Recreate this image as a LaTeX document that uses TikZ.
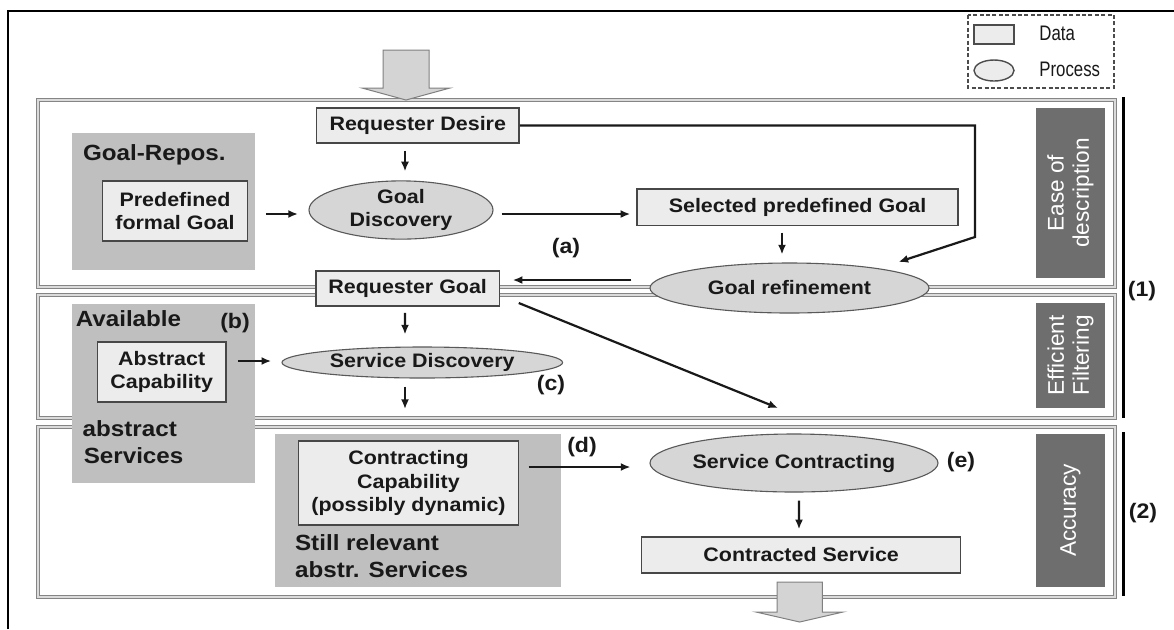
\documentclass[tikz,border=0pt]{standalone}
\usepackage{fontspec}
\setmainfont{Liberation Sans}[FakeStretch=1.1]
\newfontfamily\sidefont{Liberation Sans}
\newfontfamily\narrowfont{Liberation Sans}[FakeStretch=0.8]
\usetikzlibrary{arrows.meta,shapes.geometric}
\definecolor{panelout}{gray}{0.52}
\definecolor{panelin}{gray}{0.86}
\definecolor{grpfill}{gray}{0.75}
\definecolor{datafill}{gray}{0.925}
\definecolor{procfill}{gray}{0.84}
\definecolor{sidefill}{gray}{0.43}
\definecolor{bigfill}{gray}{0.83}
\definecolor{ink}{gray}{0.1}
\begin{document}
\begin{tikzpicture}[x=0.5pt,y=-0.5pt,
  panel/.style={draw=panelout,double=panelin,double distance=0.8pt,line width=0.6pt},
  grpbox/.style={fill=grpfill},
  databox/.style={draw=black!72,fill=datafill,line width=0.75pt,text=ink,
    font=\fontsize{9.75}{11.8}\selectfont\bfseries,align=center,inner sep=0pt},
  proc/.style={ellipse,draw=black!65,fill=procfill,line width=0.55pt,text=ink,
    font=\fontsize{9.75}{11.5}\selectfont\bfseries,align=center,inner sep=0pt},
  sidetext/.style={text=white,font=\sidefont\fontsize{11.3}{12.6}\selectfont,align=center,inner sep=0pt,rotate=90},
  arr/.style={-{Latex[length=4.8pt,width=4pt]},line width=1.1pt,draw=ink},
  tag/.style={font=\fontsize{10.5}{12}\selectfont\bfseries,inner sep=0pt,text=ink},
  grplabel/.style={font=\fontsize{11}{13.5}\selectfont\bfseries,inner sep=0pt,anchor=base west,text=ink},
  bigarr/.style={fill=bigfill,draw=black!50,line width=0.5pt},
  legtext/.style={font=\narrowfont\fontsize{10.5}{12}\selectfont,inner sep=0pt,anchor=west,text=ink}
]
\useasboundingbox (0,0) rectangle (1174,629);
\fill[white] (0,0) rectangle (1174,629);
% outer frame (only top and left visible)
\draw[line width=1.1pt] (7.7,629) -- (7.7,11) -- (1174,11);

% legend
\draw[draw=black!70,line width=0.55pt,dash pattern=on 2pt off 1.2pt] (968,15) rectangle (1114,88);
\node[draw=black!70,fill=datafill,line width=0.7pt,minimum width=20pt,minimum height=9.5pt,inner sep=0pt] (ldata) at (994,34.5) {};
\node[ellipse,draw=black!70,fill=datafill,line width=0.7pt,minimum width=20pt,minimum height=10.5pt,inner sep=0pt] (lproc) at (994,70.5) {};
\node[legtext] (ldatat) at (1039,33) {Data};
\node[legtext] (lproct) at (1039,69) {Process};

% panels
\draw[panel] (38,100) rectangle (1115,287);
\draw[panel] (38,295) rectangle (1115,418);
\draw[panel] (38,427) rectangle (1115,597);

% side labels
\fill[sidefill] (1036,108) rectangle (1105,278);
\fill[sidefill] (1036,303) rectangle (1105,408);
\fill[sidefill] (1036,434) rectangle (1105,587);
\node[sidetext] (s1) at (1070.5,193) {Ease of\\description};
\node[sidetext] (s2) at (1070.5,355.5) {Efficient\\Filtering};
\node[sidetext] (s3) at (1070.5,510.5) {Accuracy};

% brackets (1), (2)
\draw[line width=1.5pt] (1123,97) -- (1123,418);
\draw[line width=1.5pt] (1123,432) -- (1123,596);
\node[tag] (t1) at (1142,291) {(1)};
\node[tag] (t2) at (1143,513) {(2)};

% big arrows
\draw[bigarr] (383,50) -- (429,50) -- (429,88) -- (450,88) -- (406,100) -- (362,88) -- (383,88) -- cycle;
\draw[bigarr] (777,582) -- (822.4,582) -- (822.4,612) -- (843,612) -- (799.7,622) -- (756,612) -- (777,612) -- cycle;

% group boxes
\fill[grpbox] (71.7,133) rectangle (255,270);
\fill[grpbox] (71.6,304) rectangle (254.5,483);
\fill[grpbox] (274.8,434) rectangle (561.4,587);
\node[grplabel] (g1) at (82.7,160.5) {Goal-Repos.};
\node[grplabel] (g2) at (75.4,326) {Available};
\node[grplabel] (g3) at (82.3,436) {abstract};
\node[grplabel] (g4) at (83.4,463) {Services};
\node[grplabel] (g5) at (294.7,550.7) {Still relevant};
\node[grplabel] (g6) at (294.7,577) {abstr. Services};

% data and process nodes
\node[databox,minimum width=101.2pt,minimum height=17.5pt] (rd) at (417.8,125.5) {Requester Desire};
\node[databox,minimum width=72.3pt,minimum height=30pt] (pf) at (175,211) {Predefined\\formal Goal};
\node[proc,minimum width=92pt,minimum height=28pt] (gd) at (401,210) {Goal\\Discovery};
\node[databox,minimum width=160.5pt,minimum height=18.3pt] (sp) at (797.5,207.3) {Selected predefined Goal};
\node[proc,minimum width=139.5pt,minimum height=25pt] (gr) at (789.5,288) {Goal refinement};
\node[databox,minimum width=91.7pt,minimum height=17.5pt] (rg) at (407.7,288.5) {Requester Goal};
\node[databox,minimum width=64.1pt,minimum height=30pt] (ac) at (161.7,372) {Abstract\\Capability};
\node[proc,minimum width=140.3pt,minimum height=15.5pt] (sd) at (422.3,362.5) {Service Discovery};
\node[databox,minimum width=110pt,minimum height=42pt] (cc) at (408.5,483) {Contracting\\Capability\\(possibly dynamic)};
\node[proc,minimum width=144pt,minimum height=29pt] (sc) at (794,463) {Service Contracting};
\node[databox,minimum width=159.5pt,minimum height=18pt] (cs) at (801.2,555) {Contracted Service};

% tags
\node[tag] (ta) at (566,248) {(a)};
\node[tag] (tb) at (235,323) {(b)};
\node[tag] (tc) at (551,385) {(c)};
\node[tag] (td) at (582,447) {(d)};
\node[tag] (te) at (961,462) {(e)};

% free ends
\coordinate (k1) at (975,237);
\coordinate (e1) at (405,409);
\coordinate (e2) at (778,408);

% connectors
\draw[arr] ([xshift=-6.4pt,yshift=-3.5pt]rd.south) -- ([xshift=2pt,yshift=4.5pt]gd.north);
\draw[arr] ([xshift=8.85pt,yshift=-1.5pt]pf.east) -- ([xshift=-5.25pt,yshift=-2pt]gd.west);
\draw[arr] ([xshift=4pt,yshift=-2pt]gd.east) -- ([xshift=-3pt,yshift=-3.35pt]sp.west);
\draw[arr] ([xshift=-7.75pt,yshift=-3.15pt]sp.south) -- ([xshift=-3.75pt,yshift=4pt]gr.north);
\draw[arr,line join=miter] (rd.east) -| (k1) -- ([xshift=5pt,yshift=4pt]gr.north east);
\draw[arr] ([xshift=-9pt,yshift=4pt]gr.west) -- ([xshift=6.3pt,yshift=4.25pt]rg.east);
\draw[arr] ([xshift=-1.35pt,yshift=-3pt]rg.south) -- ([xshift=-8.65pt,yshift=6pt]sd.north);
\draw[arr] ([xshift=5.6pt,yshift=5.5pt]ac.east) -- ([xshift=-5.15pt,yshift=0.75pt]sd.west);
\draw[arr] ([xshift=-8.65pt,yshift=-4pt]sd.south) -- (e1);
\draw[arr] ([xshift=9.3pt,yshift=-7.25pt]rg.east) -- (e2);
\draw[arr] ([xshift=4.7pt,yshift=8pt]cc.east) -- ([xshift=-9.5pt,yshift=-2pt]sc.west);
\draw[arr] ([xshift=2.5pt,yshift=-4pt]sc.south) -- ([xshift=-1.1pt,yshift=3.5pt]cs.north);
\end{tikzpicture}
\end{document}
